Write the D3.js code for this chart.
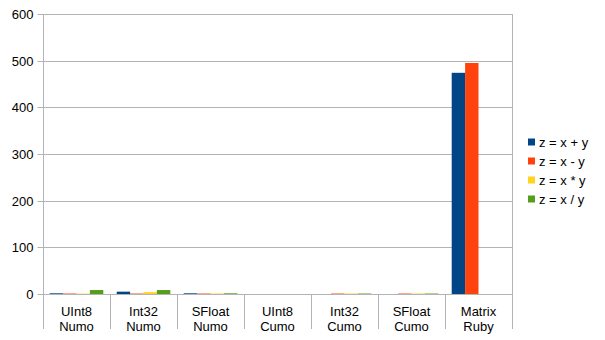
<!DOCTYPE html>
<html>
<head>
<meta charset="utf-8">
<script src="https://cdn.jsdelivr.net/npm/d3@7"></script>
<style>
  body { margin: 0; background: #fff; }
  text { font-family: "Liberation Sans", Arial, sans-serif; font-size: 13px; fill: #000; }
</style>
</head>
<body>
<svg width="605" height="340"></svg>
<script>
let width = 605, height = 340;

// data
const categories = [["UInt8", "Numo"], ["Int32", "Numo"], ["SFloat", "Numo"], ["UInt8", "Cumo"], ["Int32", "Cumo"], ["SFloat", "Cumo"], ["Matrix", "Ruby"]];
const seriesNames = ["z = x + y", "z = x - y", "z = x * y", "z = x / y"];
const addValues = [1.5, 5, 1.5, 0, 0, 0, 474];
const subValues = [1, 1, 1, 0, 1, 1, 495];
const mulValues = [0.8, 4, 1, 0, 1, 1, 0];
const divValues = [8.5, 8.5, 1.5, 0, 1, 1, 0];
const yTicks = [0, 100, 200, 300, 400, 500, 600];
const colors = ["#004586", "#ff420e", "#ffd320", "#579d1c"];

const series = [addValues, subValues, mulValues, divValues];

let svg = d3.select("svg");
let pLeft = 43, pRight = 512, pTop = 14, pBottom = 294;

var x0 = d3.scaleBand()
    .domain(d3.range(categories.length))
    .range([pLeft, pRight]);

var x1 = d3.scaleBand()
    .domain(d3.range(seriesNames.length))
    .range([x0.bandwidth() * 0.1, x0.bandwidth() * 0.9]);

var y = d3.scaleLinear()
    .domain([0, 600])
    .range([pBottom, pTop]);

// grid
svg.append("g")
    .selectAll("line")
    .data(yTicks.filter(d => d > 0))
    .enter()
    .append("line")
    .attr("x1", pLeft).attr("x2", pRight)
    .attr("y1", d => Math.round(y(d)) + 0.5)
    .attr("y2", d => Math.round(y(d)) + 0.5)
    .attr("stroke", "#b3b3b3");

// right border
svg.append("line")
    .attr("x1", pRight + 0.5).attr("x2", pRight + 0.5)
    .attr("y1", pTop).attr("y2", pBottom)
    .attr("stroke", "#b3b3b3");

// bars
svg.append("g")
    .selectAll("g")
    .data(categories)
    .enter()
    .append("g")
    .attr("transform", (d, i) => "translate(" + x0(i) + ",0)")
    .selectAll("rect")
    .data((d, i) => series.map((s, j) => ({ j: j, v: s[i] })))
    .enter()
    .append("rect")
    .attr("x", d => x1(d.j))
    .attr("width", x1.bandwidth())
    .attr("y", d => y(d.v))
    .attr("height", d => y(0) - y(d.v))
    .attr("fill", d => colors[d.j]);

// y axis
let yAxis = svg.append("g")
    .attr("transform", "translate(" + (pLeft + 0.5) + ",0)")
    .call(d3.axisLeft(y).tickValues(yTicks).tickSize(6).tickPadding(4));
yAxis.select(".domain").remove();
yAxis.selectAll(".tick line").attr("stroke", "#b3b3b3");
yAxis.selectAll(".tick text").attr("font-size", 13).attr("font-family", "Liberation Sans, Arial, sans-serif").attr("fill", "#000");
yAxis.selectAll(".tick").attr("transform", d => "translate(0," + (Math.round(y(d)) + 0.5) + ")");

svg.append("line")
    .attr("x1", pLeft + 0.5).attr("x2", pLeft + 0.5)
    .attr("y1", pTop).attr("y2", 329)
    .attr("stroke", "#b3b3b3");

// x axis
svg.append("line")
    .attr("x1", pLeft).attr("x2", pRight)
    .attr("y1", pBottom + 0.5).attr("y2", pBottom + 0.5)
    .attr("stroke", "#b3b3b3");

svg.append("g")
    .selectAll("line")
    .data(d3.range(categories.length + 1))
    .enter()
    .append("line")
    .attr("x1", i => Math.round(pLeft + i * x0.step()) + 0.5)
    .attr("x2", i => Math.round(pLeft + i * x0.step()) + 0.5)
    .attr("y1", pBottom).attr("y2", 329)
    .attr("stroke", "#b3b3b3");

let labels = svg.append("g")
    .selectAll("text")
    .data(categories)
    .enter()
    .append("text")
    .attr("text-anchor", "middle")
    .attr("x", (d, i) => x0(i) + x0.bandwidth() / 2);
labels.append("tspan").attr("y", 316).attr("x", (d, i) => x0(i) + x0.bandwidth() / 2).text(d => d[0]);
labels.append("tspan").attr("y", 331).attr("x", (d, i) => x0(i) + x0.bandwidth() / 2).text(d => d[1]);

// legend
let legend = svg.append("g")
    .selectAll("g")
    .data(seriesNames)
    .enter()
    .append("g")
    .attr("transform", (d, i) => "translate(528," + (138.5 + i * 19) + ")");
legend.append("rect")
    .attr("width", 7).attr("height", 7)
    .attr("fill", (d, i) => colors[i]);
legend.append("text")
    .attr("x", 11).attr("y", 8)
    .text(d => d);
</script>
</body>
</html>
